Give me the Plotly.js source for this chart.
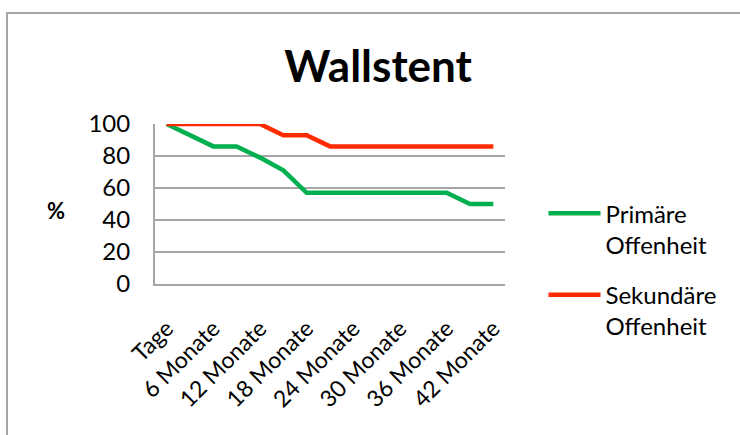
<!DOCTYPE html>
<html>
<head>
<meta charset="utf-8">
<script src="https://cdn.plot.ly/plotly-3.0.1.min.js"></script>
<style>
  html, body { margin: 0; padding: 0; background: #ffffff; overflow: hidden; }
  #frame { position: absolute; left: 6px; top: 12px; width: 760px; height: 440px;
           border-left: 2px solid #a6a6a6; border-top: 2px solid #a6a6a6; }
  #chart { position: absolute; left: 0; top: 0; width: 740px; height: 435px; }
</style>
</head>
<body>
<div id="frame"></div>
<div id="chart"></div>
<script>
const categories = ["Tage", "3 Monate", "6 Monate", "9 Monate", "12 Monate", "15 Monate", "18 Monate",
  "21 Monate", "24 Monate", "27 Monate", "30 Monate", "33 Monate", "36 Monate", "39 Monate", "42 Monate"];
const primaer = [100, 93, 86, 86, 79, 71, 57, 57, 57, 57, 57, 57, 57, 50, 50];
const sekundaer = [100, 100, 100, 100, 100, 93, 93, 86, 86, 86, 86, 86, 86, 86, 86];
const tickLabels = ["Tage", "6 Monate", "12 Monate", "18 Monate", "24 Monate", "30 Monate", "36 Monate", "42 Monate"];
const tickCats = ["Tage", "6 Monate", "12 Monate", "18 Monate", "24 Monate", "30 Monate", "36 Monate", "42 Monate"];
const yTicks = [0, 20, 40, 60, 80, 100];
const seriesNames = ["Primäre<br>Offenheit", "Sekundäre<br>Offenheit"];
const titleText = "Wallstent";
const yTitle = "%";

const FONT = "Lato, 'Open Sans', sans-serif";

const traces = [
  { x: categories, y: primaer, name: seriesNames[0], type: "scatter", mode: "lines", legendgroup: "p",
    line: { color: "#00b050", width: 4.5 } },
  { x: categories, y: sekundaer, name: seriesNames[1], type: "scatter", mode: "lines", legendgroup: "s",
    line: { color: "#ff2a00", width: 4.5 } }
];

const layout = {
  width: 740, height: 435,
  margin: { l: 155, r: 235, t: 124, b: 151, pad: 0 },
  paper_bgcolor: "rgba(0,0,0,0)",
  plot_bgcolor: "rgba(0,0,0,0)",
  font: { family: FONT, size: 24, color: "#000000" },
  title: { text: "<b>" + titleText + "</b>", font: { family: FONT, size: 44, color: "#000" },
           x: 0.511, xanchor: "center", y: 0.846, yanchor: "middle", xref: "container", yref: "container" },
  xaxis: {
    type: "category", categoryorder: "array", categoryarray: categories,
    range: [-0.5, categories.length - 0.5],
    tickmode: "array", tickvals: tickCats, ticktext: tickLabels,
    tickangle: -45, ticks: "", showgrid: false, zeroline: false,
    showline: true, linecolor: "#a6a6a6", linewidth: 2,
    tickfont: { family: FONT, size: 23 }, ticklabelstandoff: 20, automargin: false
  },
  yaxis: {
    range: [0, 100], tickmode: "array", tickvals: yTicks,
    ticks: "", showgrid: true, gridcolor: "#a6a6a6", gridwidth: 2, zeroline: false,
    showline: true, linecolor: "#a6a6a6", linewidth: 2,
    tickfont: { family: FONT, size: 24 }, ticklabelstandoff: 18, automargin: false
  },
  showlegend: true,
  legend: {
    x: 1.11, xanchor: "left", y: 0.58, yanchor: "top",
    font: { family: FONT, size: 24, color: "#000" },
    valign: "top", tracegroupgap: 16, itemwidth: 52, bgcolor: "rgba(0,0,0,0)"
  },
  annotations: [
    { text: "<b>" + yTitle + "</b>", xref: "paper", yref: "paper", x: -0.283, y: 0.46,
      showarrow: false, font: { family: FONT, size: 22, color: "#000" }, xanchor: "center", yanchor: "middle" }
  ]
};

Plotly.newPlot("chart", traces, layout, { displayModeBar: false, staticPlot: true });
</script>
</body>
</html>
